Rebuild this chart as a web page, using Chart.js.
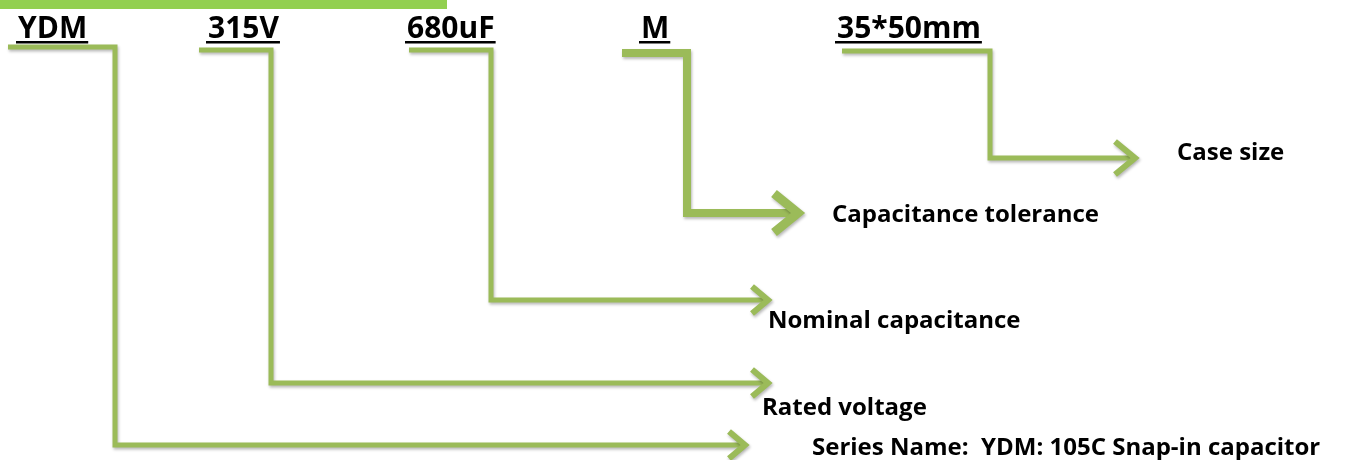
<!DOCTYPE html>
<html>
<head>
<meta charset="utf-8">
<script src="https://cdn.jsdelivr.net/npm/chart.js@4.4.0/dist/chart.umd.min.js"></script>
<style>
  html, body { margin: 0; padding: 0; background: #fff; }
  canvas { display: block; }
</style>
</head>
<body>
<canvas id="codeChart" width="1352" height="460"></canvas>
<script>
// part number codes and what each one means
var codes = ["YDM", "315V", "680uF", "M", "35*50mm"];
var meanings = ["Series Name:  YDM: 105C Snap-in capacitor", "Rated voltage", "Nominal capacitance", "Capacitance tolerance", "Case size"];

// code label placement (left x, baseline y)
var codeX = [18, 208, 407, 641, 837];
var codeY = [38, 38, 38, 38, 38];

// connector path: start -> elbow -> down -> arrow tip
var connStartX = [8, 199, 409, 622, 842];
var connElbowX = [115, 271, 491, 687, 990];
var connTopY = [47, 50, 50, 53, 51];
var connEndY = [445, 383, 300, 213, 158];
var connTipX = [747, 770, 770, 800, 1137];
var connWidth = [5, 5, 5, 8, 5];
var headSize = [18, 18, 18, 26, 22];

// meaning label placement (left x, baseline y)
var meaningX = [812, 762, 768, 832, 1177];
var meaningY = [455, 415, 328, 222, 160];

// green header strip
var stripX = [0, 447];
var stripY = [4.5, 4.5];

var lineGreen = '#9BBB59';

var datasets = [{
  label: 'strip',
  data: [{x: stripX[0], y: stripY[0]}, {x: stripX[1], y: stripY[1]}],
  borderColor: '#92D050',
  borderWidth: 9,
  pointRadius: 0,
  borderCapStyle: 'butt',
  noShadow: true
}];

codes.forEach(function (c, i) {
  datasets.push({
    label: c,
    data: [
      {x: connStartX[i], y: connTopY[i]},
      {x: connElbowX[i], y: connTopY[i]},
      {x: connElbowX[i], y: connEndY[i]},
      {x: connTipX[i] - 4, y: connEndY[i]}
    ],
    borderColor: lineGreen,
    borderWidth: connWidth[i],
    pointRadius: 0,
    tension: 0,
    borderJoinStyle: 'miter',
    borderCapStyle: 'butt',
    arrowHead: headSize[i],
    tipX: connTipX[i],
    tipY: connEndY[i]
  });
});

var shadowPlugin = {
  id: 'shadow',
  beforeDatasetDraw: function (chart, args) {
    var ds = chart.data.datasets[args.index];
    if (ds.noShadow) return;
    var ctx = chart.ctx;
    ctx.save();
    ctx.shadowColor = 'rgba(0,0,0,0.28)';
    ctx.shadowBlur = 3;
    ctx.shadowOffsetX = 1;
    ctx.shadowOffsetY = 2;
  },
  afterDatasetDraw: function (chart, args) {
    var ds = chart.data.datasets[args.index];
    if (ds.noShadow) return;
    var ctx = chart.ctx;
    var x = chart.scales.x, y = chart.scales.y;
    if (ds.arrowHead) {
      var tx = x.getPixelForValue(ds.tipX);
      var ty = y.getPixelForValue(ds.tipY);
      var h = ds.arrowHead;
      ctx.strokeStyle = ds.borderColor;
      ctx.lineWidth = ds.borderWidth + 1;
      ctx.lineJoin = 'miter';
      ctx.lineCap = 'butt';
      ctx.beginPath();
      ctx.moveTo(tx - h, ty - h * 0.75);
      ctx.lineTo(tx - 2, ty);
      ctx.lineTo(tx - h, ty + h * 0.75);
      ctx.stroke();
    }
    ctx.restore();
  }
};

var textPlugin = {
  id: 'texts',
  afterDraw: function (chart) {
    var ctx = chart.ctx;
    var x = chart.scales.x, y = chart.scales.y;
    ctx.save();
    ctx.fillStyle = '#000';
    ctx.textBaseline = 'alphabetic';
    ctx.textAlign = 'left';
    ctx.font = 'bold 30px "Open Sans"';
    codes.forEach(function (c, i) {
      var px = x.getPixelForValue(codeX[i]);
      var py = y.getPixelForValue(codeY[i]);
      ctx.fillText(c, px, py);
      var w = ctx.measureText(c).width;
      ctx.fillRect(px - 2, py + 3, w + 3, 2.5);
    });
    ctx.font = 'bold 24px "Open Sans"';
    meanings.forEach(function (m, i) {
      ctx.fillText(m, x.getPixelForValue(meaningX[i]), y.getPixelForValue(meaningY[i]));
    });
    ctx.restore();
  }
};

var myChart = new Chart(document.getElementById('codeChart').getContext('2d'), {
  type: 'line',
  data: { datasets: datasets },
  options: {
    responsive: false,
    animation: false,
    events: [],
    layout: { padding: 0 },
    plugins: { legend: { display: false }, tooltip: { enabled: false } },
    scales: {
      x: { type: 'linear', min: 0, max: 1352, display: false },
      y: { type: 'linear', min: 0, max: 460, reverse: true, display: false }
    }
  },
  plugins: [shadowPlugin, textPlugin]
});
</script>
</body>
</html>
